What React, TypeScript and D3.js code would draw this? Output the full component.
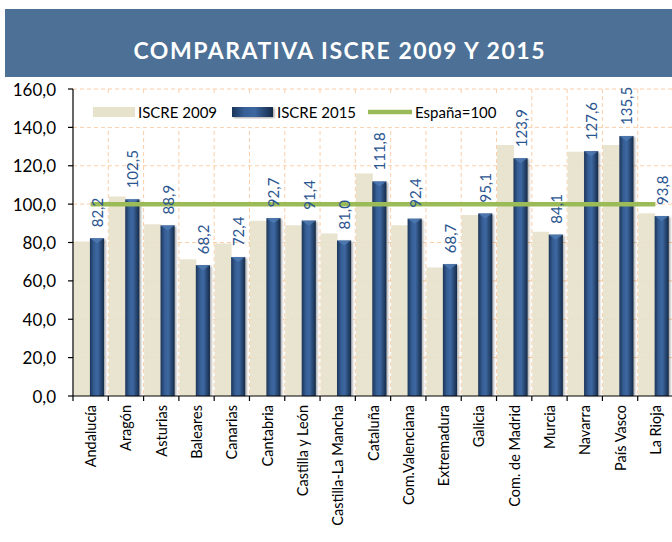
import React from "react";
import * as d3 from "d3";

const categories = [
  "Andalucía", "Aragón", "Asturias", "Baleares", "Canarias", "Cantabria",
  "Castilla y León", "Castilla-La Mancha", "Cataluña", "Com.Valenciana",
  "Extremadura", "Galicia", "Com. de Madrid", "Murcia", "Navarra",
  "País Vasco", "La Rioja",
];
const iscre2009 = [80.5, 104, 89.5, 71.2, 79.5, 91.3, 89, 84.7, 116, 89, 67, 94.3, 130.8, 85.6, 127.3, 130.8, 95.2];
const iscre2015 = [82.2, 102.5, 88.9, 68.2, 72.4, 92.7, 91.4, 81.0, 111.8, 92.4, 68.7, 95.1, 123.9, 84.1, 127.6, 135.5, 93.8];
const espana = categories.map(() => 100);
const yTicks = [0, 20, 40, 60, 80, 100, 120, 140, 160];
const legendLabels = ["ISCRE 2009", "ISCRE 2015", "España=100"];
const title = "COMPARATIVA ISCRE 2009 Y 2015";

const W = 672;
const H = 542;
const FONT = "Lato, 'Open Sans', sans-serif";

export default function App() {
  const x = d3.scaleBand<string>().domain(categories).range([73, 673]).paddingInner(0).paddingOuter(0);
  const y = d3.scaleLinear().domain([0, 160]).range([396, 89]);
  const bw = x.bandwidth();
  const fmt = (v: number) => v.toFixed(1).replace(".", ",");

  const line = d3
    .line<number>()
    .x((_, i) => (x(categories[i]) as number) + bw / 2)
    .y((d) => y(d));

  const grid = "#fbcfa8";

  return (
    <svg width={W} height={H} style={{ position: "absolute", left: 0, top: 0 }} fontFamily={FONT}>
      <defs>
        <linearGradient id="blueGrad" x1="0" x2="1" y1="0" y2="0">
          <stop offset="0" stopColor="#1b3559" />
          <stop offset="0.3" stopColor="#375f96" />
          <stop offset="0.55" stopColor="#3d67a0" />
          <stop offset="1" stopColor="#142a48" />
        </linearGradient>
        <filter id="shadow" x="-50%" y="-10%" width="200%" height="120%">
          <feGaussianBlur stdDeviation="1.2" />
        </filter>
      </defs>
      <rect x={0} y={0} width={W} height={H} fill="#fff" />
      {/* banner */}
      <rect x={5} y={9} width={W - 5} height={68} fill="#4c7096" />
      <text x={339} y={50} fill="#fff" fontSize={23} fontWeight={700} textAnchor="middle" dominantBaseline="central" textLength={411} lengthAdjust="spacing">
        {title}
      </text>

      {/* gridlines */}
      {yTicks.filter((t) => t > 0).map((t) => (
        <line key={"h" + t} x1={73} x2={673} y1={y(t)} y2={y(t)} stroke={grid} strokeDasharray="4,3" />
      ))}
      {categories.map((c, i) =>
        i === 0 ? null : (
          <line key={"v" + c} x1={x(c)} x2={x(c)} y1={y(160)} y2={y(0)} stroke={grid} strokeDasharray="4,3" />
        )
      )}

      {/* bars 2009 */}
      {categories.map((c, i) => (
        <rect key={"a" + c} x={(x(c) as number) + 0.5} width={bw * 0.48} y={y(iscre2009[i])} height={y(0) - y(iscre2009[i])} fill="#e6e2cb" fillOpacity={0.92} />
      ))}
      {/* bars 2015 */}
      {categories.map((c, i) => {
        const bx = (x(c) as number) + bw * 0.48;
        const w = bw * 0.4;
        const top = y(iscre2015[i]);
        return (
          <g key={"b" + c}>
            <rect x={bx + 1.5} y={top + 1} width={w} height={y(0) - top - 1} fill="#000" opacity={0.35} filter="url(#shadow)" />
            <rect x={bx} y={top} width={w} height={y(0) - top} fill="url(#blueGrad)" />
            <polygon points={`${bx},${top} ${bx + w},${top} ${bx + w / 2},${top + 5}`} fill="#4f7ab3" opacity={0.8} />
          </g>
        );
      })}

      {/* España line */}
      <path d={line(espana) || ""} fill="none" stroke="#9bbb59" strokeWidth={4.5} />

      {/* data labels */}
      {categories.map((c, i) => {
        const cx = (x(c) as number) + bw * 0.68;
        const ty = y(iscre2015[i]) - 11;
        return (
          <text key={"l" + c} transform={`translate(${cx},${ty}) rotate(-90)`} fontSize={15} fill="#2a5590" textAnchor="start" dominantBaseline="central">
            {fmt(iscre2015[i])}
          </text>
        );
      })}

      {/* axes */}
      <line x1={73} x2={73} y1={y(160)} y2={y(0)} stroke="#000" strokeWidth={1.2} />
      <line x1={73} x2={673} y1={y(0)} y2={y(0)} stroke="#000" strokeWidth={1.2} />
      {yTicks.map((t) => (
        <g key={"yt" + t}>
          <line x1={68} x2={73} y1={y(t)} y2={y(t)} stroke="#000" strokeWidth={1.2} />
          <text x={56} y={y(t)} fontSize={17} textAnchor="end" dominantBaseline="central" fill="#000">
            {fmt(t)}
          </text>
        </g>
      ))}
      {categories.map((c) => (
        <line key={"xt" + c} x1={x(c)} x2={x(c)} y1={y(0)} y2={y(0) + 5} stroke="#000" strokeWidth={1.2} />
      ))}
      {categories.map((c) => (
        <text key={"xl" + c} transform={`translate(${(x(c) as number) + bw / 2},405) rotate(-90)`} fontSize={14.5} textAnchor="end" dominantBaseline="central" fill="#000">
          {c}
        </text>
      ))}

      {/* legend */}
      <rect x={86} y={96} width={414} height={31} fill="#fff" />
      <rect x={93} y={107} width={42} height={10} fill="#e6e2cb" />
      <text x={138} y={112} fontSize={15} dominantBaseline="central">{legendLabels[0]}</text>
      <rect x={233.5} y={108} width={41} height={10} fill="#000" opacity={0.35} filter="url(#shadow)" />
      <rect x={232} y={107} width={41} height={10} fill="url(#blueGrad)" />
      <text x={277} y={112} fontSize={15} dominantBaseline="central">{legendLabels[1]}</text>
      <line x1={368} x2={412} y1={112} y2={112} stroke="#9bbb59" strokeWidth={4.5} />
      <text x={415} y={112} fontSize={15} dominantBaseline="central">{legendLabels[2]}</text>
    </svg>
  );
}
